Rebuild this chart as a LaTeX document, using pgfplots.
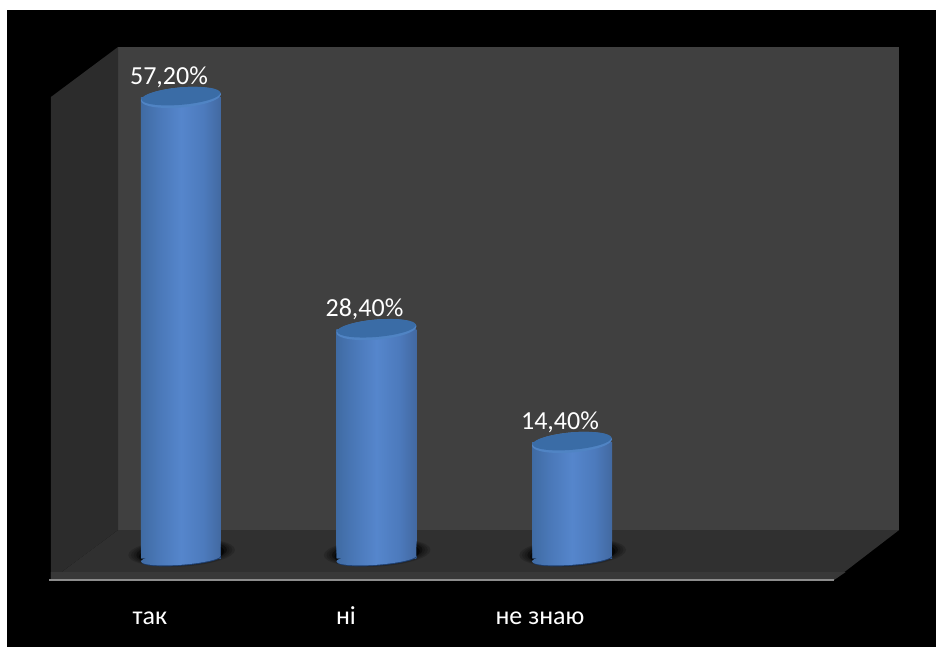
\documentclass[border=0pt]{standalone}
\usepackage{fontspec}
\setmainfont{Carlito}
\usepackage{pgfplots}
\usepackage{pgfplotstable}
\pgfplotsset{compat=1.18}

\definecolor{wallback}{HTML}{404040}
\definecolor{wallside}{HTML}{2C2C2C}
\definecolor{floorcol}{HTML}{303030}
\definecolor{floorlip}{HTML}{383838}
\definecolor{axisgrey}{HTML}{8C8C8C}
\definecolor{rimdark}{HTML}{1E3F70}
\definecolor{rimlight}{HTML}{5084C4}
\definecolor{capdark}{HTML}{3A6CA6}

% Horizontal light falloff across a cylinder
\pgfdeclarehorizontalshading{cylbody}{100bp}{
  rgb(0bp)=(0.25,0.42,0.64);
  rgb(25bp)=(0.25,0.42,0.64);
  rgb(36bp)=(0.29,0.47,0.72);
  rgb(50bp)=(0.335,0.525,0.80);
  rgb(64bp)=(0.30,0.48,0.74);
  rgb(75bp)=(0.26,0.41,0.63);
  rgb(100bp)=(0.26,0.41,0.63)}

% Soft dark contact shadow on the floor, kept off the cylinder itself
\pgfdeclareplotmark{cylshadow}{%
  \begin{pgfscope}
  \pgfpathrectangle{\pgfpoint{-60pt}{-30pt}}{\pgfpoint{120pt}{60pt}}%
  \pgfpathrectangle{\pgfpoint{-30pt}{0pt}}{\pgfpoint{60pt}{30pt}}%
  \pgfseteorule\pgfusepath{clip}%
  \pgfsetfillcolor{black}%
  \pgfsetfillopacity{0.16}%
  \pgfpathellipse{\pgfpoint{0.5pt}{4.5pt}}{\pgfpoint{40pt}{2pt}}{\pgfpoint{0pt}{10.5pt}}\pgfusepathqfill
  \pgfpathellipse{\pgfpoint{0.5pt}{4.5pt}}{\pgfpoint{38pt}{2pt}}{\pgfpoint{0pt}{10pt}}\pgfusepathqfill
  \pgfpathellipse{\pgfpoint{0.5pt}{4.5pt}}{\pgfpoint{36pt}{2pt}}{\pgfpoint{0pt}{9.5pt}}\pgfusepathqfill
  \pgfsetfillopacity{0.35}%
  \pgfpathellipse{\pgfpoint{0.5pt}{4.5pt}}{\pgfpoint{34pt}{2pt}}{\pgfpoint{0pt}{9pt}}\pgfusepathqfill
  \pgfsetfillopacity{0.55}%
  \pgfpathellipse{\pgfpoint{0.5pt}{3.5pt}}{\pgfpoint{32pt}{2pt}}{\pgfpoint{0pt}{8.5pt}}\pgfusepathqfill
  \end{pgfscope}
}
% Rounded foot of a cylinder: its base below a cut just above the centre line
\pgfdeclareplotmark{cylfoot}{%
  \begin{pgfscope}
  \pgfpathrectangle{\pgfpoint{-30pt}{-12pt}}{\pgfpoint{60pt}{15pt}}\pgfusepath{clip}%
  \pgfsetfillcolor{rimdark}%
  \pgfpathellipse{\pgfpoint{0.4pt}{-0.7pt}}{\pgfpoint{29.8pt}{2.2pt}}{\pgfpoint{-0.2pt}{4.7pt}}\pgfusepathqfill
  \pgfpathellipse{\pgfpointorigin}{\pgfpoint{30pt}{2.2pt}}{\pgfpoint{-0.2pt}{4.7pt}}%
  \pgfshadepath{cylbody}{0}\pgfusepath{discard}%
  \end{pgfscope}
}
% Flat top of a cylinder with a lighter front rim
\pgfdeclareplotmark{cyltop}{%
  \pgfsetfillcolor{rimlight}%
  \pgfpathellipse{\pgfpoint{0pt}{0pt}}{\pgfpoint{30pt}{2.5pt}}{\pgfpoint{-0.4pt}{7.5pt}}\pgfusepathqfill
  \pgfsetfillcolor{capdark}%
  \pgfpathellipse{\pgfpoint{0pt}{1pt}}{\pgfpoint{29.5pt}{2.5pt}}{\pgfpoint{-0.4pt}{6.5pt}}\pgfusepathqfill
}

% Share of answers, per cent
\pgfplotstableread{
pos share
0   57.2
1   28.4
2   14.4
}\answers
\pgfplotstableread{
pos level
0   0
1   0
2   0
}\feet

\pgfplotsset{cylinder bar/.style={ybar, bar width=60pt, bar shift=0pt, draw=none, shading=cylbody, forget plot,
  restrict x to domain=#1}}

\begin{document}
\begin{tikzpicture}
% page ground: 702pt x 485.25pt
\useasboundingbox (0,0) rectangle (702pt,485.25pt);
\fill[white] (0,0) rectangle (702pt,485.25pt);
\fill[black] (5.25pt,0) rectangle (702pt,477.75pt);

\begin{axis}[
  at={(36.75pt,50.25pt)}, anchor=south west,
  scale only axis, width=588.75pt, height=399.75pt,
  xmin=-0.675, xmax=3.34, ymin=-2.667, ymax=63.46,
  clip=false, axis on top,
  axis x line*=bottom, axis y line=none,
  x axis line style={draw=axisgrey, line width=2pt, -},
  xtick={-0.159,0.844,1.836},
  xticklabels={так,ні,не знаю},
  major tick length=0pt,
  xtick style={draw=none},
  xticklabel style={text=white, font=\fontsize{19.5}{24}\selectfont, anchor=center, text height=9pt, text depth=0pt, yshift=-29pt},
  /pgf/number format/assume math mode=true,
]
% back wall, side wall and floor of the chart box
\addplot[draw=none, fill=wallback, forget plot] coordinates {(-0.322,63.46) (3.673,63.46) (3.673,3.536) (-0.322,3.536)} -- cycle;
\addplot[draw=none, fill=wallside, forget plot] coordinates {(-0.665,57.26) (-0.322,63.46) (-0.322,3.536) (-0.665,-2.667)} -- cycle;
\addplot[draw=none, fill=floorcol, forget plot] coordinates {(-0.322,3.536) (3.673,3.536) (3.340,-2.667) (-0.665,-2.667)} -- cycle;
\addplot[draw=none, fill=floorlip, forget plot] coordinates {(-0.665,-1.675) (3.40,-1.675) (3.340,-2.667) (-0.665,-2.667)} -- cycle;

% contact shadows
\addplot[only marks, mark=cylshadow, forget plot] table[x=pos, y=level] {\feet};

% cylinder bodies, each with its own shading
\addplot[cylinder bar={-0.1:0.1}] table[x=pos, y=share] {\answers};
\addplot[cylinder bar={0.9:1.1}] table[x=pos, y=share] {\answers};
\addplot[cylinder bar={1.9:2.1}] table[x=pos, y=share] {\answers};

% cylinder feet
\addplot[only marks, mark=cylfoot, forget plot] table[x=pos, y=level] {\feet};

% cylinder tops carrying the value labels
\addplot[only marks, mark=cyltop, forget plot,
  nodes near coords={\pgfmathprintnumber[fixed, fixed zerofill, precision=2, use comma, assume math mode=true]{\pgfplotspointmeta}\%},
  every node near coord/.style={text=white, font=\fontsize{19.5}{24}\selectfont, anchor=center, xshift=-9pt, yshift=15pt},
] table[x=pos, y=share] {\answers};
\end{axis}
\end{tikzpicture}
\end{document}
